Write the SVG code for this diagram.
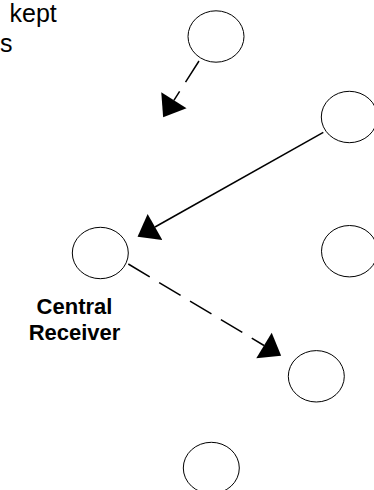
<svg xmlns="http://www.w3.org/2000/svg" width="374" height="490" viewBox="0 0 374 490">
  <style>
    .node { fill: #ffffff; stroke: #000000; stroke-width: 1; }
    .edge { fill: none; stroke: #000000; stroke-width: 1.5; }
    .dash { stroke-dasharray: 25 11; }
    .txt { font-family: "Liberation Sans", Arial, sans-serif; fill: #000000; font-size: 25px; }
    .lbl { font-family: "Liberation Sans", Arial, sans-serif; font-weight: bold; fill: #000000; font-size: 22px; text-anchor: middle; }
  </style>
  <defs>
    <marker id="arrow" markerUnits="userSpaceOnUse" markerWidth="20" markerHeight="30" refX="0" refY="15" orient="auto" overflow="visible">
      <path d="M0,0 L20,15 L0,30 Z" fill="#000000"/>
    </marker>
  </defs>
  <rect x="0" y="0" width="374" height="490" fill="#ffffff"/>

  <g id="caption">
    <text class="txt" x="9.5" y="22">kept</text>
    <text class="txt" x="0" y="51.5">s</text>
  </g>

  <g id="connectors">
    <path class="edge dash" d="M199,61 L173.9,100.3" marker-end="url(#arrow)"/>
    <path class="edge" d="M323.3,132.3 L155,227" marker-end="url(#arrow)"/>
    <path class="edge dash" d="M128.3,264 L264,345.5" marker-end="url(#arrow)"/>
  </g>

  <g id="node-top"><ellipse class="node" cx="216" cy="36.5" rx="28" ry="25.7"/></g>
  <g id="node-right-upper"><ellipse class="node" cx="349.3" cy="117" rx="28" ry="25.7"/></g>
  <g id="node-right-middle"><ellipse class="node" cx="349.5" cy="251.2" rx="28" ry="25.7"/></g>
  <g id="node-central">
    <ellipse class="node" cx="100.3" cy="253" rx="28" ry="25.7"/>
    <text class="lbl" x="74.5" y="314.3">Central</text>
    <text class="lbl" x="74.5" y="340">Receiver</text>
  </g>
  <g id="node-right-lower"><ellipse class="node" cx="316.3" cy="376.3" rx="28" ry="25.7"/></g>
  <g id="node-bottom"><ellipse class="node" cx="211.3" cy="468" rx="28" ry="25.7"/></g>
</svg>
